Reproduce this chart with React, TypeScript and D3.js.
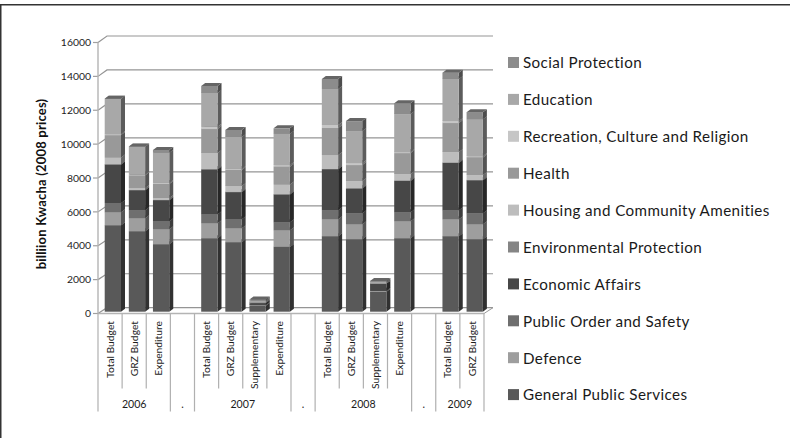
import React from "react";
import * as d3 from "d3";

const years = ["2006", ".", "2007", ".", "2008", ".", "2009"];
const yearSlots = [3, 1, 4, 1, 4, 1, 2];
const slotLabels = [
  "Total Budget", "GRZ Budget", "Expenditure", "",
  "Total Budget", "GRZ Budget", "Supplementary", "Expenditure", "",
  "Total Budget", "GRZ Budget", "Supplementary", "Expenditure", "",
  "Total Budget", "GRZ Budget",
];
const yTicks = [0, 2000, 4000, 6000, 8000, 10000, 12000, 14000, 16000];

const legendNames = [
  "Social Protection", "Education", "Recreation, Culture and Religion", "Health",
  "Housing and Community Amenities", "Environmental Protection", "Economic Affairs",
  "Public Order and Safety", "Defence", "General Public Services",
];
const legendColors = ["#8c8c8c", "#a8a8a8", "#c6c6c6", "#999999", "#bdbdbd", "#858585", "#474747", "#6f6f6f", "#9e9e9e", "#595959"];

const generalPublic = [5125, 4770, 4000, 4355, 4120, 350, 3840, 4475, 4295, 1175, 4355, 4475, 4295];
const defence = [770, 770, 890, 890, 830, 40, 990, 1005, 890, 60, 1005, 1005, 890];
const publicOrder = [550, 475, 475, 535, 535, 20, 475, 535, 650, 0, 535, 535, 650];
const economic = [2275, 1185, 1245, 2650, 1600, 100, 1640, 2430, 1465, 430, 1855, 2800, 1955];
const environmental = [10, 10, 10, 10, 10, 0, 10, 10, 10, 0, 10, 10, 10];
const housing = [415, 120, 120, 965, 355, 5, 590, 830, 430, 0, 395, 635, 295];
const health = [1320, 750, 830, 1420, 950, 60, 1045, 1600, 950, 0, 1245, 1720, 1050];
const recreation = [60, 40, 60, 135, 60, 5, 100, 180, 120, 0, 60, 120, 75];
const education = [2090, 1660, 1795, 2000, 1895, 90, 1855, 2135, 1895, 100, 2250, 2490, 2190];
const social = [10, 10, 160, 415, 415, 50, 320, 590, 590, 60, 650, 375, 415];

const seriesValues = [social, education, recreation, health, housing, environmental, economic, publicOrder, defence, generalPublic];
const keys = [...legendNames].reverse();

const FRONT_LEFT = 98;
const FRONT_RIGHT = 484;
const DX = 9;
const FONT = "Lato, 'Open Sans', sans-serif";

export default function App() {
  const slots = d3.range(slotLabels.length);
  const x = d3.scaleBand<number>().domain(slots).range([FRONT_LEFT, FRONT_RIGHT]);
  const yFront = d3.scaleLinear().domain([0, 16000]).range([313.5, 42.5]);
  const yBack = d3.scaleLinear().domain([0, 16000]).range([307.7, 36]);
  const yBar = d3.scaleLinear().domain([0, 16000]).range([311.7, 41.7]);

  const barSlots = slots.filter((s) => slotLabels[s] !== "");
  const rows = barSlots.map((_, i) => {
    const r: Record<string, number> = {};
    legendNames.forEach((n, k) => (r[n] = seriesValues[k][i]));
    return r;
  });
  const stacked = d3.stack<Record<string, number>>().keys(keys)(rows);
  const colorOf = (name: string) => legendColors[legendNames.indexOf(name)];
  const shade = (c: string, f: number) => {
    const h = d3.rgb(c);
    return d3.rgb(h.r * f, h.g * f, h.b * f).formatHex();
  };

  const groupEdges: number[] = [0];
  yearSlots.forEach((n) => groupEdges.push(groupEdges[groupEdges.length - 1] + n));
  const edgeX = (i: number) => FRONT_LEFT + i * x.bandwidth();

  const barW = 16.3;
  const barOff = 6.7;
  const depthX = 4;
  const depthY = 3;

  return (
    <svg width={790} height={438} style={{ position: "absolute", left: 0, top: 0, background: "#fff" }} fontFamily={FONT}>
      {/* frame */}
      <line x1={0} x2={790} y1={4.8} y2={4.8} stroke="#333" strokeWidth={1.5} />
      <line x1={0.7} x2={0.7} y1={4} y2={438} stroke="#333" strokeWidth={1.6} />

      {/* gridlines */}
      {yTicks.map((t) => (
        <g key={t} stroke="#959595" strokeWidth={1.2} fill="none">
          <path d={`M${FRONT_LEFT},${yFront(t)}L${FRONT_LEFT + DX},${yBack(t)}L${FRONT_RIGHT + DX},${yBack(t)}`} />
          <line x1={93} x2={FRONT_LEFT} y1={yFront(t)} y2={yFront(t)} stroke="#a0a0a0" />
        </g>
      ))}
      <path d={`M${FRONT_RIGHT},313.5L${FRONT_RIGHT + DX},${yBack(0)}`} stroke="#9a9a9a" fill="none" />

      {/* axis lines */}
      <line x1={FRONT_LEFT} x2={FRONT_LEFT} y1={yFront(16000)} y2={313.5} stroke="#b4b4b4" strokeWidth={1.4} />
      <line x1={FRONT_LEFT} x2={FRONT_RIGHT} y1={313.5} y2={313.5} stroke="#b4b4b4" strokeWidth={1.4} />

      {/* separators */}
      {d3.range(slotLabels.length + 1).map((i) => (
        <line key={i} x1={edgeX(i)} x2={edgeX(i)} y1={313.5} y2={groupEdges.includes(i) ? 411.5 : 388.5} stroke="#b0b0b0" strokeWidth={1.2} />
      ))}

      {/* y tick labels */}
      {yTicks.map((t) => (
        <text key={t} x={91} y={yFront(t)} dy="0.35em" textAnchor="end" fontSize={10.4} fill="#1c1c1c">{t}</text>
      ))}
      <text transform="translate(41,184) rotate(-90)" textAnchor="middle" dy="0.35em" fontSize={13} letterSpacing={0.2} fontWeight={700} fill="#111">billiion Kwacha (2008 prices)</text>

      {/* bars */}
      {barSlots.map((s, i) => {
        const bx = (x(s) as number) + barOff;
        return (
          <g key={s}>
            {stacked.map((ser) => {
              const y0 = yBar(ser[i][0]);
              const y1 = yBar(ser[i][1]);
              const c = colorOf(ser.key);
              return (
                <g key={ser.key}>
                  <polygon points={`${bx + barW},${y0} ${bx + barW + depthX},${y0 - depthY} ${bx + barW + depthX},${y1 - depthY} ${bx + barW},${y1}`} fill={shade(c, 0.55)} />
                  <rect x={bx} y={y1} width={barW} height={Math.max(0, y0 - y1)} fill={c} />
                  <polygon points={`${bx},${y1} ${bx + depthX},${y1 - depthY} ${bx + barW + depthX},${y1 - depthY} ${bx + barW},${y1}`} fill={shade(c, 0.72)} />
                </g>
              );
            })}
          </g>
        );
      })}

      {/* category labels */}
      {slots.map((s) => slotLabels[s] ? (
        <text key={s} transform={`translate(${(x(s) as number) + x.bandwidth() / 2},321) rotate(-90)`} textAnchor="end" dy="0.35em" fontSize={10.3} fill="#1c1c1c">{slotLabels[s]}</text>
      ) : null)}
      {years.map((yr, i) => (
        <text key={i} x={(edgeX(groupEdges[i]) + edgeX(groupEdges[i + 1])) / 2} y={404} dy="0.35em" textAnchor="middle" fontSize={10.6} fill="#1c1c1c">{yr}</text>
      ))}

      {/* legend */}
      {legendNames.map((n, i) => {
        const cy = 62.5 + i * 36.9;
        return (
          <g key={n}>
            <rect x={508} y={cy - 5.5} width={11} height={11} fill={legendColors[i]} />
            <text x={523} y={cy + 0.5} dy="0.35em" fontSize={15.2} letterSpacing={0.4} fill="#1a1a1a">{n}</text>
          </g>
        );
      })}
    </svg>
  );
}
